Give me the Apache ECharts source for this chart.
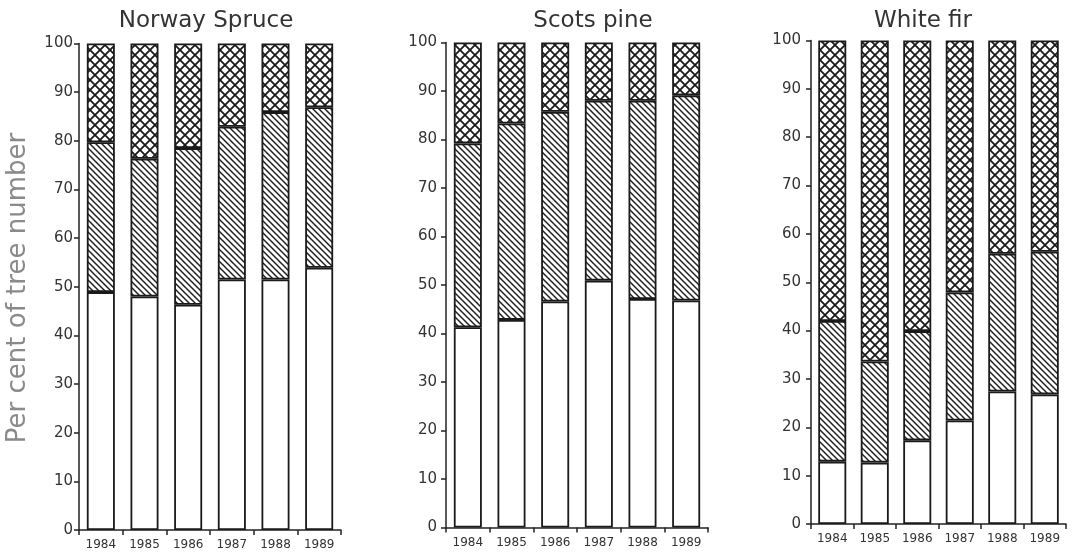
<!DOCTYPE html>
<html>
<head>
<meta charset="utf-8">
<script src="https://cdn.jsdelivr.net/npm/echarts@6/dist/echarts.min.js"></script>
<style>html,body{margin:0;padding:0;background:#fff;}#c{width:1078px;height:554px;}</style>
</head>
<body>
<div id="c"></div>
<script>
// Categories and tick labels
const years = ['1984', '1985', '1986', '1987', '1988', '1989'];
const panelTitles = ['Norway Spruce', 'Scots pine', 'White fir'];
const yTicks = [0, 10, 20, 30, 40, 50, 60, 70, 80, 90, 100];

// Segment values (per cent of tree number), bottom -> top
const spruceOpen   = [48.9, 48.0, 46.3, 51.5, 51.5, 53.9];
const spruceHatch  = [30.8, 28.3, 32.2, 31.4, 34.4, 33.0];
const spruceCross  = [20.3, 23.7, 21.5, 17.1, 14.1, 13.1];

const pineOpen     = [41.3, 42.8, 46.6, 50.9, 47.1, 46.8];
const pineHatch    = [37.9, 40.5, 39.1, 37.1, 40.9, 42.3];
const pineCross    = [20.8, 16.7, 14.3, 12.0, 12.0, 10.9];

const firOpen      = [12.9, 12.7, 17.3, 21.4, 27.4, 26.8];
const firHatch     = [29.1, 20.9, 22.6, 26.5, 28.5, 29.5];
const firCross     = [58.0, 66.4, 60.1, 52.1, 44.1, 43.7];

const panels = [
  [spruceOpen, spruceHatch, spruceCross],
  [pineOpen, pineHatch, pineCross],
  [firOpen, firHatch, firCross]
];

function makeHatch() {
  const s = 6;
  const c = document.createElement('canvas');
  c.width = s; c.height = s;
  const g = c.getContext('2d');
  g.fillStyle = '#fff'; g.fillRect(0, 0, s, s);
  g.strokeStyle = '#222'; g.lineWidth = 1.5;
  g.beginPath();
  g.moveTo(-1, -1); g.lineTo(s + 1, s + 1);
  g.moveTo(-1, s - 1); g.lineTo(1, s + 1);
  g.moveTo(s - 1, -1); g.lineTo(s + 1, 1);
  g.stroke();
  return c;
}
function makeCross() {
  const s = 10;
  const c = document.createElement('canvas');
  c.width = s; c.height = s;
  const g = c.getContext('2d');
  g.fillStyle = '#fff'; g.fillRect(0, 0, s, s);
  g.strokeStyle = '#1a1a1a'; g.lineWidth = 1.8;
  g.beginPath();
  g.moveTo(-1, -1); g.lineTo(s + 1, s + 1);
  g.moveTo(s + 1, -1); g.lineTo(-1, s + 1);
  g.stroke();
  return c;
}
const hatchFill = { image: makeHatch(), repeat: 'repeat' };
const crossFill = { image: makeCross(), repeat: 'repeat' };

const grids = [
  { left: 79, top: 43.5, width: 262, height: 486.5 },
  { left: 446, top: 42.5, width: 262, height: 485 },
  { left: 811, top: 40.5, width: 255, height: 483.5 }
];
const titleX = [201, 588, 918];
const yLabelMargin = [6, 9, 10];

const FONT = 'DejaVu Sans';
const option = {
  animation: false,
  backgroundColor: '#fff',
  title: panelTitles.map((t, i) => ({
    text: t, left: titleX[i], top: 5, textAlign: 'center',
    textStyle: { fontFamily: FONT, fontSize: 23, fontWeight: 'normal', color: '#333' }
  })),
  grid: grids,
  xAxis: grids.map((g, i) => ({
    type: 'category', gridIndex: i, data: years, boundaryGap: true,
    axisLine: { lineStyle: { color: '#222', width: 1.5 } },
    axisTick: { show: true, length: 5, alignWithLabel: false, lineStyle: { color: '#222', width: 1.5 } },
    axisLabel: { fontFamily: FONT, fontSize: 12, color: '#333', margin: 9, interval: 0 }
  })),
  yAxis: grids.map((g, i) => ({
    type: 'value', gridIndex: i, min: 0, max: 100, interval: 10,
    splitLine: { show: false },
    axisLine: { show: true, lineStyle: { color: '#222', width: 1.5 } },
    axisTick: { show: true, length: 5, lineStyle: { color: '#222', width: 1.5 } },
    axisLabel: { fontFamily: FONT, fontSize: 15, color: '#333', margin: yLabelMargin[i] }
  })),
  graphic: [{
    type: 'text', x: 18, y: 288, rotation: Math.PI / 2,
    style: { text: 'Per cent of tree number', fontFamily: FONT, fontSize: 26, fill: '#8a8a8a',
      align: 'center', verticalAlign: 'middle' }
  }],
  series: []
};

panels.forEach((segs, i) => {
  const fills = ['#fff', hatchFill, crossFill];
  segs.forEach((vals, k) => {
    option.series.push({
      type: 'bar', xAxisIndex: i, yAxisIndex: i, stack: 'p' + i,
      barWidth: 28, data: vals,
      itemStyle: { color: fills[k], borderColor: '#1a1a1a', borderWidth: 1.8 },
      emphasis: { disabled: true }
    });
  });
});

const chart = echarts.init(document.getElementById('c'), null, { renderer: 'canvas' });
chart.setOption(option);
</script>
</body>
</html>
